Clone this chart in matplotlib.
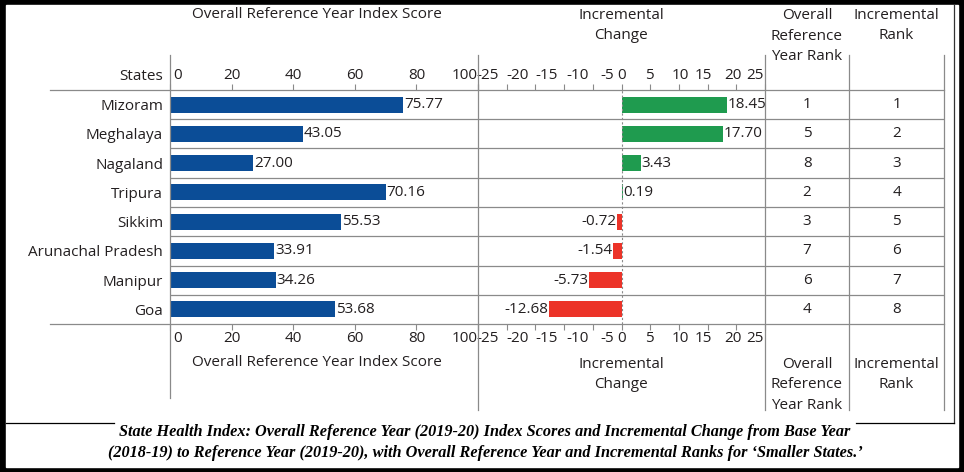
import matplotlib
matplotlib.use("Agg")
import matplotlib.pyplot as plt
import matplotlib.transforms as mtransforms
from matplotlib.lines import Line2D
from matplotlib.patches import Rectangle

# data
states = ['Mizoram', 'Meghalaya', 'Nagaland', 'Tripura', 'Sikkim',
          'Arunachal Pradesh', 'Manipur', 'Goa']
score = [75.77, 43.05, 27.00, 70.16, 55.53, 33.91, 34.26, 53.68]
change = [18.45, 17.70, 3.43, 0.19, -0.72, -1.54, -5.73, -12.68]
ref_rank = [1, 5, 8, 2, 3, 7, 6, 4]
inc_rank = [1, 2, 3, 4, 5, 6, 7, 8]

score_ticks = [0, 20, 40, 60, 80, 100]
change_ticks = [-25, -20, -15, -10, -5, 0, 5, 10, 15, 20, 25]

BLUE = '#0b4d97'
GREEN = '#1f9b4f'
RED = '#ec3328'
GRID = '#8a8a8a'
TXT = '#231f20'
FONT = 'Open Sans'
FS = 11

plt.rcParams['font.family'] = [FONT, 'DejaVu Sans']

W, H = 964, 472
fig = plt.figure(figsize=(W / 100, H / 100), dpi=100)
fig.patch.set_facecolor('black')
fig.add_artist(Rectangle((6 / W, 1 - 467 / H), (958 - 6) / W, (467 - 5) / H,
                         transform=fig.transFigure, color='white', zorder=-10))


def hline(y, x0, x1, color=GRID, lw=0.9):
    fig.add_artist(Line2D([x0 / W, x1 / W], [1 - y / H, 1 - y / H],
                          transform=fig.transFigure, color=color, lw=lw))


def vline(x, y0, y1, color=GRID, lw=0.9):
    fig.add_artist(Line2D([x / W, x / W], [1 - y0 / H, 1 - y1 / H],
                          transform=fig.transFigure, color=color, lw=lw))


def ftext(x, y, s, **kw):
    kw.setdefault('ha', 'center')
    kw.setdefault('va', 'center')
    kw.setdefault('fontsize', FS)
    kw.setdefault('color', TXT)
    fig.text(x / W, 1 - y / H, s, **kw)


def add_ax(x0, x1):
    ax = fig.add_axes([x0 / W, 1 - 324 / H, (x1 - x0) / W, 234 / H])
    ax.set_facecolor('none')
    for s in ax.spines.values():
        s.set_visible(False)
    ax.set_ylim(len(states) - 0.5, -0.5)
    return ax


y = list(range(len(states)))

# score panel
ax1 = add_ax(170, 478)
ax1.barh(y, score, height=0.55, color=BLUE)
ax1.set_xlim(0, 100)
for i, v in enumerate(score):
    ax1.text(v + 0.2, i, f'{v:.2f}', ha='left', va='center', fontsize=FS, color=TXT)
ax1.set_yticks(y)
ax1.set_yticklabels(states, fontsize=FS, color=TXT)
ax1.tick_params(axis='y', length=0, pad=5)

# incremental change panel
ax2 = add_ax(478, 765)
cols = [GREEN if v >= 0 else RED for v in change]
ax2.barh(y, change, height=0.55, color=cols)
ax2.set_xlim(-25, 25)
ax2.axvline(0, color=GRID, lw=0.8, ls=(0, (2, 2)))
for i, v in enumerate(change):
    if v >= 0:
        ax2.text(v + 0.1, i, f'{v:.2f}', ha='left', va='center', fontsize=FS, color=TXT)
    else:
        ax2.text(v - 0.1, i, f'{v:.2f}', ha='right', va='center', fontsize=FS, color=TXT)
ax2.set_yticks([])

# rank columns
ax3 = add_ax(765, 944)
ax3.set_xticks([])
ax3.set_yticks([])
tr = mtransforms.blended_transform_factory(ax3.transAxes, ax3.transData)
for i, (a, b) in enumerate(zip(ref_rank, inc_rank)):
    ax3.text(0.235, i, str(a), transform=tr, ha='center', va='center', fontsize=FS, color=TXT)
    ax3.text(0.735, i, str(b), transform=tr, ha='center', va='center', fontsize=FS, color=TXT)

# row separators
for ax in (ax1, ax2, ax3):
    for k in range(len(states) - 1):
        ax.axhline(k + 0.5, color=GRID, lw=0.9)


def shift_labels(ax, ticks, offsets):
    ax.set_xticks(ticks)
    ax.set_xticklabels([str(t) for t in ticks])
    ax.tick_params(axis='x', top=True, bottom=True, labeltop=True, labelbottom=True,
                   direction='out', length=4, width=0.8, color=GRID, pad=1,
                   labelsize=FS, labelcolor=TXT)
    for tk, dx in zip(ax.xaxis.get_major_ticks(), offsets):
        off = mtransforms.ScaledTranslation(dx / 100, 0, fig.dpi_scale_trans)
        tk.label1.set_transform(tk.label1.get_transform() + off)
        tk.label2.set_transform(tk.label2.get_transform() + off)


shift_labels(ax1, score_ticks, [8, 0, 0, 0, 0, -13])
shift_labels(ax2, change_ticks, [10, 11, 11, 13, 14, 0, -1, 1, -4, -3, -10])

# frame lines
hline(90, 50, 944)
hline(324, 50, 944)
vline(170, 55, 398)
for x in (478, 765, 849, 944):
    vline(x, 55, 410)

# headers, top and bottom
LS = 1.5
ftext(163, 76, 'States', ha='right')
for yy in (14, 363):
    ftext(317, yy, 'Overall Reference Year Index Score')
ftext(621, 25.5, 'Incremental\nChange', linespacing=LS)
ftext(621, 374.5, 'Incremental\nChange', linespacing=LS)
ftext(807, 36, 'Overall\nReference\nYear Rank', linespacing=LS)
ftext(807, 385, 'Overall\nReference\nYear Rank', linespacing=LS)
ftext(896, 25.5, 'Incremental\nRank', linespacing=LS)
ftext(896, 374.5, 'Incremental\nRank', linespacing=LS)

# caption box and caption
vline(954, 5, 423, color='#333333', lw=0.9)
hline(423, 6, 114, color='black', lw=0.9)
hline(423, 856, 954, color='black', lw=0.9)
cap_kw = dict(family='Liberation Serif', fontsize=11.7, fontweight='bold',
              fontstyle='italic', color='black')
ftext(485, 432, 'State Health Index: Overall Reference Year (2019-20) Index Scores '
      'and Incremental Change from Base Year', **cap_kw)
ftext(485, 453, '(2018-19) to Reference Year (2019-20), with Overall Reference Year '
      'and Incremental Ranks for \u2018Smaller States.\u2019', **cap_kw)

fig.savefig('out.png', dpi=100, facecolor=fig.get_facecolor())
